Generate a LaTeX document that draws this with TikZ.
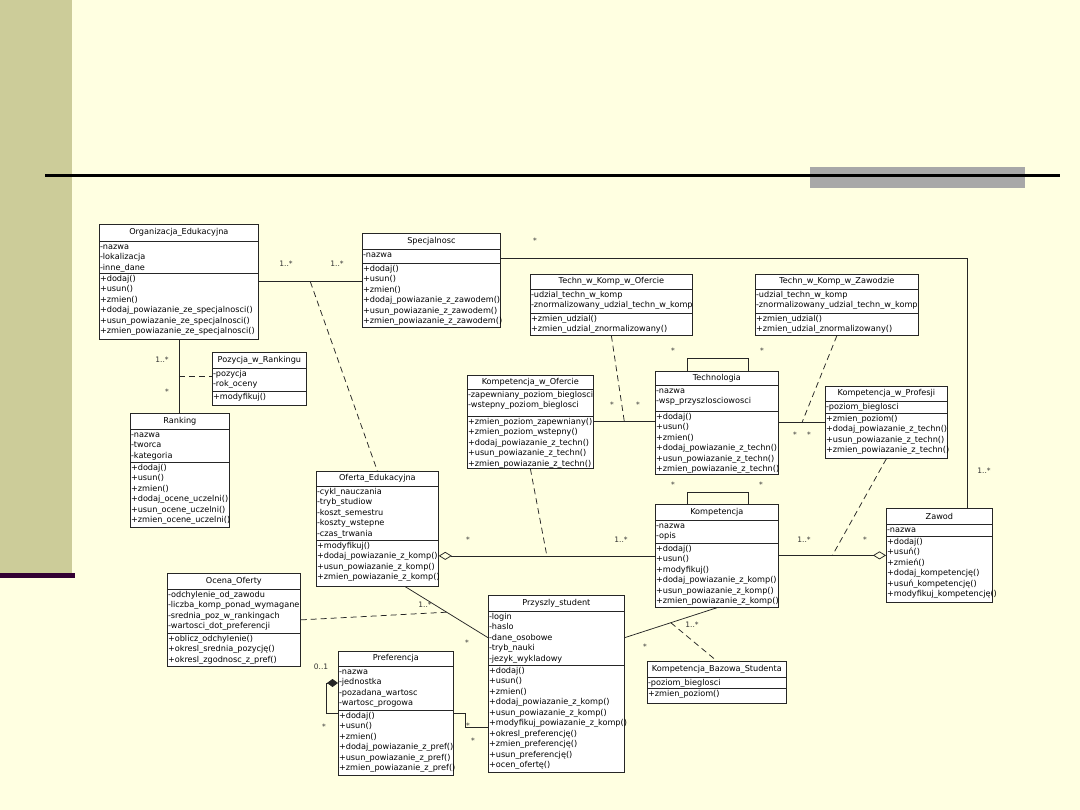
\documentclass[tikz,border=0pt]{standalone}
\usepackage{fontspec}
\setmainfont{DejaVu Sans}
\usetikzlibrary{arrows.meta,calc}
\definecolor{cream}{HTML}{FFFFE1}
\definecolor{olive}{HTML}{CCCC99}
\definecolor{plum}{HTML}{330033}
\definecolor{bar}{HTML}{A8A8A8}
\newcommand{\umlfont}{\fontsize{8.15}{10.5}\selectfont}
\newcommand{\multfont}{\fontsize{7.5}{8}\selectfont}
% class box: name, nw corner, width, height, title height, attribute height, title, attributes, methods
\newcommand{\umlclass}[9]{%
  \node[umlbox, minimum width=#3, minimum height=#4] (#1) at (#2) {};
  \draw[umlline] ([yshift=-#5]#1.north west) -- ([yshift=-#5]#1.north east);
  \draw[umlline] ([yshift=-#5-#6]#1.north west) -- ([yshift=-#5-#6]#1.north east);
  \node[umltitle] (#1-t) at ([yshift=-#5/2]#1.north) {#7};
  \node[umlpart] (#1-a) at ([yshift=-#5]#1.north west) {\strut#8\strut};
  \node[umlpart] (#1-m) at ([yshift=-#5-#6]#1.north west) {\strut#9\strut};
}
\tikzset{
  umlbox/.style={draw=black!85, fill=white, anchor=north west, inner sep=0pt, line width=0.75pt},
  umlline/.style={draw=black!85, line width=0.75pt},
  umltitle/.style={font=\umlfont, inner sep=0pt},
  umlpart/.style={font=\umlfont, anchor=north west, align=left, inner xsep=0.8pt, inner ysep=0.8pt},
  mult/.style={font=\multfont, text=black!80, inner sep=0pt},
  assoc/.style={draw=black!85, line width=0.75pt},
  dep/.style={assoc, dash pattern=on 6pt off 4pt},
  aggr/.style={assoc, {Diamond[open,length=13pt,width=8pt]}-},
  comp/.style={assoc, {Diamond[length=11pt,width=8pt]}-},
}

\begin{document}
\begin{tikzpicture}[x=1pt,y=-1pt]
 \useasboundingbox (0,0) rectangle (1080,810);
 % slide background
 \fill[cream] (0,0) rectangle (1080,810);
 \fill[olive] (0,0) rectangle (72,575);
 \fill[plum] (0,573) rectangle (75,578);
 \fill[bar] (810,167) rectangle (1025,188);
 \draw[line width=3pt] (45,176) -- (1060,176);

 % classes
 \umlclass{org}{99,224}{159}{115}{17}{32}{Organizacja\_Edukacyjna}
  {-nazwa\\-lokalizacja\\-inne\_dane}
  {+dodaj()\\+usun()\\+zmien()\\+dodaj\_powiazanie\_ze\_specjalnosci()\\+usun\_powiazanie\_ze\_specjalnosci()\\+zmien\_powiazanie\_ze\_specjalnosci()}
 \umlclass{spec}{362,233}{138}{94}{16}{14}{Specjalnosc}
  {-nazwa}
  {+dodaj()\\+usun()\\+zmien()\\+dodaj\_powiazanie\_z\_zawodem()\\+usun\_powiazanie\_z\_zawodem()\\+zmien\_powiazanie\_z\_zawodem()}
 \umlclass{tkof}{530,274}{162}{61}{15}{24}{Techn\_w\_Komp\_w\_Ofercie}
  {-udzial\_techn\_w\_komp\\-znormalizowany\_udzial\_techn\_w\_komp}
  {+zmien\_udzial()\\+zmien\_udzial\_znormalizowany()}
 \umlclass{tkzaw}{755,274}{163}{61}{15}{24}{Techn\_w\_Komp\_w\_Zawodzie}
  {-udzial\_techn\_w\_komp\\-znormalizowany\_udzial\_techn\_w\_komp}
  {+zmien\_udzial()\\+zmien\_udzial\_znormalizowany()}
 \umlclass{poz}{212,352}{94}{53}{16}{23}{Pozycja\_w\_Rankingu}
  {-pozycja\\-rok\_oceny}
  {+modyfikuj()}
 \umlclass{rank}{130,413}{99}{114}{16}{33}{Ranking}
  {-nazwa\\-tworca\\-kategoria}
  {+dodaj()\\+usun()\\+zmien()\\+dodaj\_ocene\_uczelni()\\+usun\_ocene\_uczelni()\\+zmien\_ocene\_uczelni()}
 \umlclass{kwo}{467,375}{126}{93}{14}{27}{Kompetencja\_w\_Ofercie}
  {-zapewniany\_poziom\_bieglosci\\-wstepny\_poziom\_bieglosci}
  {+zmien\_poziom\_zapewniany()\\+zmien\_poziom\_wstepny()\\+dodaj\_powiazanie\_z\_techn()\\+usun\_powiazanie\_z\_techn()\\+zmien\_powiazanie\_z\_techn()}
 \umlclass{tech}{655,371}{123}{103}{14}{26}{Technologia}
  {-nazwa\\-wsp\_przyszlosciowosci}
  {+dodaj()\\+usun()\\+zmien()\\+dodaj\_powiazanie\_z\_techn()\\+usun\_powiazanie\_z\_techn()\\+zmien\_powiazanie\_z\_techn()}
 \umlclass{kwp}{825,386}{122}{72}{15}{12}{Kompetencja\_w\_Profesji}
  {-poziom\_bieglosci}
  {+zmien\_poziom()\\+dodaj\_powiazanie\_z\_techn()\\+usun\_powiazanie\_z\_techn()\\+zmien\_powiazanie\_z\_techn()}
 \umlclass{komp}{655,504}{123}{103}{16}{23}{Kompetencja}
  {-nazwa\\-opis}
  {+dodaj()\\+usun()\\+modyfikuj()\\+dodaj\_powiazanie\_z\_komp()\\+usun\_powiazanie\_z\_komp()\\+zmien\_powiazanie\_z\_komp()}
 \umlclass{zawod}{886,508}{106}{94}{16}{12}{Zawod}
  {-nazwa}
  {+dodaj()\\+usuń()\\+zmień()\\+dodaj\_kompetencję()\\+usuń\_kompetencję()\\+modyfikuj\_kompetencję()}
 \umlclass{ofer}{316,471}{122}{115}{15}{54}{Oferta\_Edukacyjna}
  {-cykl\_nauczania\\-tryb\_studiow\\-koszt\_semestru\\-koszty\_wstepne\\-czas\_trwania}
  {+modyfikuj()\\+dodaj\_powiazanie\_z\_komp()\\+usun\_powiazanie\_z\_komp()\\+zmien\_powiazanie\_z\_komp()}
 \umlclass{ocena}{167,573}{133}{93}{16}{44}{Ocena\_Oferty}
  {-odchylenie\_od\_zawodu\\-liczba\_komp\_ponad\_wymagane\\-srednia\_poz\_w\_rankingach\\-wartosci\_dot\_preferencji}
  {+oblicz\_odchylenie()\\+okresl\_srednia\_pozycję()\\+okresl\_zgodnosc\_z\_pref()}
 \umlclass{stud}{488,595}{136}{177}{16}{54}{Przyszly\_student}
  {-login\\-haslo\\-dane\_osobowe\\-tryb\_nauki\\-jezyk\_wykladowy}
  {+dodaj()\\+usun()\\+zmien()\\+dodaj\_powiazanie\_z\_komp()\\+usun\_powiazanie\_z\_komp()\\+modyfikuj\_powiazanie\_z\_komp()\\+okresl\_preferencję()\\+zmien\_preferencję()\\+usun\_preferencję()\\+ocen\_ofertę()}
 \umlclass{pref}{338,651}{115}{124}{15}{44}{Preferencja}
  {-nazwa\\-jednostka\\-pozadana\_wartosc\\-wartosc\_progowa}
  {+dodaj()\\+usun()\\+zmien()\\+dodaj\_powiazanie\_z\_pref()\\+usun\_powiazanie\_z\_pref()\\+zmien\_powiazanie\_z\_pref()}
 \umlclass{kbs}{647,661}{139}{42}{16}{11}{Kompetencja\_Bazowa\_Studenta}
  {-poziom\_bieglosci}
  {+zmien\_poziom()}

 % associations
 \draw[assoc] (org.east) -- (org.east -| spec.west);
 \coordinate (os) at ($(org.east)!0.5!(org.east -| spec.west)$);
 \draw[dep] (os) -- (ofer.north);
 \draw[assoc] ([yshift=-25]spec.north east) -| ([xshift=28]zawod.north);
 \draw[assoc] (org.south) -- (org.south |- rank.north);
 \coordinate (or) at ($(org.south)!0.5!(org.south |- rank.north)$);
 \draw[dep] (or) -- (or -| poz.west);
 \draw[assoc] ([xshift=-30]tech.north) -- ++(0,-13) -| ([xshift=31]tech.north);
 \draw[assoc] ([xshift=-30]komp.north) -- ++(0,-12) -| ([xshift=31]komp.north);
 \draw[assoc] (kwo.east) -- (kwo.east -| tech.west);
 \coordinate (kt) at ($(kwo.east)!0.5!(kwo.east -| tech.west)$);
 \draw[dep] (tkof.south) -- (kt);
 \draw[assoc] (tech.east) -- (tech.east -| kwp.west);
 \coordinate (tp) at ($(tech.east)!0.5!(tech.east -| kwp.west)$);
 \draw[dep] (tkzaw.south) -- (tp);
 \draw[aggr] (ofer.east |- komp.west) -- (komp.west);
 \coordinate (ok) at ($(ofer.east |- komp.west)!0.5!(komp.west)$);
 \draw[dep] (kwo.south) -- (ok);
 \draw[aggr] (zawod.west) -- (zawod.west -| komp.east);
 \coordinate (kz) at ($(komp.east |- zawod.west)!0.5!(zawod.west)$);
 \draw[dep] (kwp.south) -- (kz);
 \coordinate (sw) at ($(stud.north west)!0.24!(stud.south west)$);
 \draw[assoc] ([xshift=28]ofer.south) -- (sw);
 \coordinate (of) at ($([xshift=28]ofer.south)!0.5!(sw)$);
 \draw[dep] (ocena.east) -- (of);
 \coordinate (se) at ($(stud.north east)!0.24!(stud.south east)$);
 \draw[assoc] (se) -- (komp.south);
 \coordinate (sk) at ($(se)!0.5!(komp.south)$);
 \draw[dep] (sk) -- (kbs.north);
 \draw[assoc] ([yshift=-62]pref.north east) -- ++(12,0) |- ([yshift=-132]stud.north west);
 \draw[comp] ([yshift=-32]pref.north west) -| ([xshift=-12,yshift=-62]pref.north west) -- ([yshift=-62]pref.north west);

 % multiplicities
 \foreach \t/\x/\y [count=\i] in {1..*/286/264, 1..*/337/264, */535/241, 1..*/984/471,
   1..*/162/360, */167/392, */673/351, */762/351, */612/405, */638/405,
   */795/435, */809/435, */673/485, */761/485, */468/540, 1..*/621/540,
   1..*/804/540, */865/540, 1..*/425/605, */467/643, 1..*/692/625, */645/647,
   0..1/321/667, */324/727, */468/726, */473/741}
  \node[mult] (m\i) at (\x,\y) {\t};
\end{tikzpicture}
\end{document}
